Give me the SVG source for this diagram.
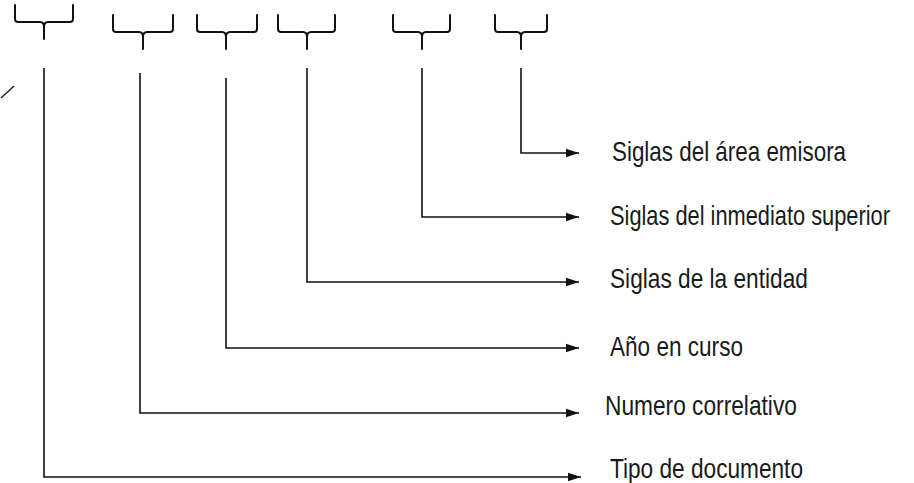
<svg xmlns="http://www.w3.org/2000/svg" width="914" height="483" viewBox="0 0 914 483">
<style>
.brace{fill:none;stroke:#111;stroke-width:2;stroke-linejoin:round;stroke-linecap:round}
.conn{fill:none;stroke:#111;stroke-width:1.6}
.lbl{font-family:"Liberation Sans",Arial,sans-serif;font-size:27px;fill:#1a1a1a}
</style>
<defs>
<marker id="arr" markerUnits="userSpaceOnUse" markerWidth="14" markerHeight="10" refX="13" refY="5" orient="auto">
<path d="M0,0.8 L13,5 L0,9.2 Z" fill="#111"/>
</marker>
</defs>
<rect width="914" height="483" fill="#fff"/>
<path d="M1,98 L14,86" stroke="#222" stroke-width="1.5" fill="none"/>
<g id="brace-1"><path class="brace" d="M15,5 L15,19 Q15,22 18,22 L40,22 Q44,22 44,27 L44,39 M73,5 L73,19 Q73,22 70,22 L48,22 Q44,22 44,27"/></g>
<g id="brace-2"><path class="brace" d="M113,15 L113,29 Q113,32 116,32 L139,32 Q143,32 143,37 L143,49 M173,15 L173,29 Q173,32 170,32 L147,32 Q143,32 143,37"/></g>
<g id="brace-3"><path class="brace" d="M197,15 L197,29 Q197,32 200,32 L222,32 Q226,32 226,37 L226,49 M257,15 L257,29 Q257,32 254,32 L230,32 Q226,32 226,37"/></g>
<g id="brace-4"><path class="brace" d="M278,15 L278,29 Q278,32 281,32 L303,32 Q307,32 307,37 L307,49 M335,15 L335,29 Q335,32 332,32 L311,32 Q307,32 307,37"/></g>
<g id="brace-5"><path class="brace" d="M393,15 L393,29 Q393,32 396,32 L418,32 Q422,32 422,37 L422,49 M450,15 L450,29 Q450,32 447,32 L426,32 Q422,32 422,37"/></g>
<g id="brace-6"><path class="brace" d="M495,15 L495,29 Q495,32 498,32 L517,32 Q521,32 521,37 L521,49 M547,15 L547,29 Q547,32 544,32 L525,32 Q521,32 521,37"/></g>
<g id="connectors">
<path class="conn" d="M521,68 L521,153 L579,153" marker-end="url(#arr)"/>
<path class="conn" d="M422,68 L422,217 L579,217" marker-end="url(#arr)"/>
<path class="conn" d="M307,68 L307,282 L579,282" marker-end="url(#arr)"/>
<path class="conn" d="M226,78 L226,348 L579,348" marker-end="url(#arr)"/>
<path class="conn" d="M140,73 L140,413 L579,413" marker-end="url(#arr)"/>
<path class="conn" d="M44,68 L44,477 L581,477" marker-end="url(#arr)"/>
</g>
<g id="label-1"><text class="lbl" transform="translate(612,161) scale(0.83,1)">Siglas del área emisora</text></g>
<g id="label-2"><text class="lbl" transform="translate(610,225) scale(0.808,1)">Siglas del inmediato superior</text></g>
<g id="label-3"><text class="lbl" transform="translate(610,288) scale(0.84,1)">Siglas de la entidad</text></g>
<g id="label-4"><text class="lbl" transform="translate(610,356) scale(0.836,1)">Año en curso</text></g>
<g id="label-5"><text class="lbl" transform="translate(605,415) scale(0.842,1)">Numero correlativo</text></g>
<g id="label-6"><text class="lbl" transform="translate(610,478) scale(0.839,1)">Tipo de documento</text></g>
</svg>
